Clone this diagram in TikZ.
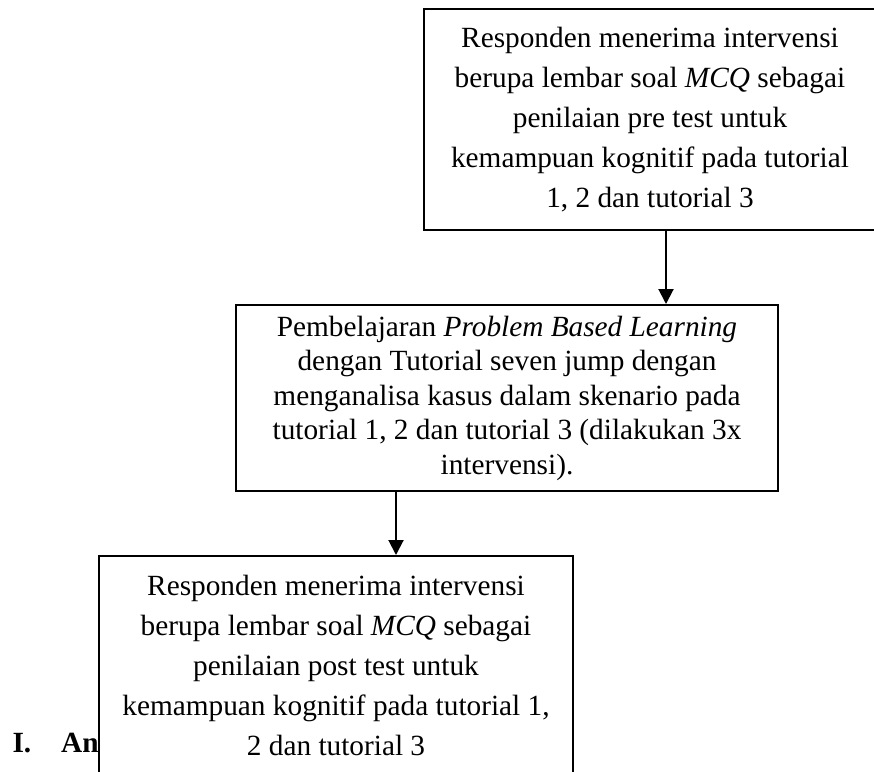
\documentclass[tikz,border=0pt]{standalone}
\usepackage{fontspec}
\setmainfont{Liberation Serif}
\usetikzlibrary{arrows.meta}

\begin{document}
\begin{tikzpicture}[
			x=1pt, y=-1pt,
			box/.style={draw, line width=2pt, fill=white, inner sep=0pt, align=center,
				font=\fontsize{29.3}{40}\selectfont},
			arr/.style={line width=2pt, -{Triangle[width=15pt,length=15pt]}}
			]
			
			\useasboundingbox (0,0) rectangle (874,771);
			
			\node[anchor=base west, font=\fontsize{29.3}{40}\selectfont\bfseries] (bab) at (9,752) {I.\hspace{30pt}Ana};
			
			\node[box, minimum width=452pt, minimum height=221pt] (pre) at (650,119.5)
			{Responden menerima intervensi\\
				berupa lembar soal \textit{MCQ} sebagai\\
				penilaian pre test untuk\\
				kemampuan kognitif pada tutorial\\
				1, 2 dan tutorial 3};
			
			\node[box, minimum width=542pt, minimum height=186pt,
				font=\fontsize{29.3}{34.5}\selectfont] (pbl) at (507,398)
			{Pembelajaran \textit{Problem Based Learning}\\
				dengan Tutorial seven jump dengan\\
				menganalisa kasus dalam skenario pada\\
				tutorial 1, 2 dan tutorial 3 (dilakukan 3x\\
				intervensi).};
			
			\node[box, minimum width=474pt, minimum height=218pt] (post) at (336,665)
			{Responden menerima intervensi\\
				berupa lembar soal \textit{MCQ} sebagai\\
				penilaian post test untuk\\
				kemampuan kognitif pada tutorial 1,\\
				2 dan tutorial 3};
			
			\draw[arr] ([xshift=16pt]pre.south) -- ([xshift=16pt]pre.south |- pbl.north);
			\draw[arr] ([xshift=-111pt]pbl.south) -- ([xshift=-111pt]pbl.south |- post.north);
		\end{tikzpicture}
\end{document}
